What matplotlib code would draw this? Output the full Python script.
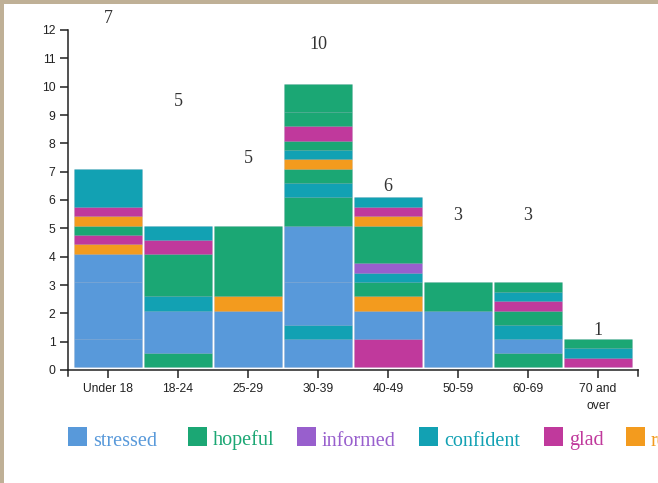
import matplotlib
matplotlib.use("Agg")
import matplotlib.pyplot as plt
from matplotlib.patches import Rectangle
from matplotlib.lines import Line2D

# ---- data -------------------------------------------------------------
age_groups = ["Under 18", "18-24", "25-29", "30-39", "40-49", "50-59",
              "60-69", "70 and\nover"]
emotions = ["stressed", "hopeful", "informed", "confident", "glad", "relieved"]

third = 1 / 3
# stacked pieces per age group, bottom to top: (emotion, share of responses)
under_18 = [("stressed", 1), ("stressed", 2), ("stressed", 1),
            ("relieved", third), ("glad", third), ("hopeful", third),
            ("relieved", third), ("glad", third), ("confident", 4 * third)]
age_18_24 = [("hopeful", 0.5), ("stressed", 1.5), ("confident", 0.5),
             ("hopeful", 1.5), ("glad", 0.5), ("confident", 0.5)]
age_25_29 = [("stressed", 2), ("relieved", 0.5), ("hopeful", 2.5)]
age_30_39 = [("stressed", 1), ("confident", 0.5), ("stressed", 1.5),
             ("stressed", 2), ("hopeful", 1), ("confident", 0.5),
             ("hopeful", 0.5), ("relieved", third), ("confident", third),
             ("hopeful", third), ("glad", 0.5), ("hopeful", 0.5),
             ("hopeful", 1)]
age_40_49 = [("glad", 1), ("stressed", 1), ("relieved", 0.5),
             ("hopeful", 0.5), ("confident", third), ("informed", third),
             ("hopeful", 4 * third), ("relieved", third), ("glad", third),
             ("confident", third)]
age_50_59 = [("stressed", 2), ("hopeful", 1)]
age_60_69 = [("hopeful", 0.5), ("stressed", 0.5), ("confident", 0.5),
             ("hopeful", 0.5), ("glad", third), ("confident", third),
             ("hopeful", third)]
age_70_plus = [("glad", third), ("confident", third), ("hopeful", third)]

stacks = [under_18, age_18_24, age_25_29, age_30_39, age_40_49,
          age_50_59, age_60_69, age_70_plus]

# ---- style ------------------------------------------------------------
palette = {
    "stressed": "#5899DA",
    "hopeful": "#1BA774",
    "informed": "#985FCD",
    "confident": "#12A1B3",
    "glad": "#C0399C",
    "relieved": "#F39B1E",
}
total_label_y = [12.4, 9.49, 7.48, 11.5, 6.46, 5.47, 5.47, 1.41]
baseline_lift = 0.1
W, H = 658, 483

fig = plt.figure(figsize=(W / 100, H / 100), dpi=100)
fig.patch.set_facecolor("white")

# tan frame strips on the left and top edges
tan = "#bfb096"
fig.add_artist(Rectangle((0, 0), 4 / W, 1, transform=fig.transFigure,
                         facecolor=tan, edgecolor="none", zorder=0))
fig.add_artist(Rectangle((0, 1 - 4 / H), 1, 4 / H, transform=fig.transFigure,
                         facecolor=tan, edgecolor="none", zorder=0))

left_px, right_px, top_px, bottom_px = 68, 638, 30, 370
ax = fig.add_axes([left_px / W, 1 - bottom_px / H,
                   (right_px - left_px) / W, (bottom_px - top_px) / H])
ax.set_facecolor("none")

pad = 5 / 70
ax.set_xlim(-0.5 - pad, len(age_groups) - 0.5 + pad)
ax.set_ylim(0, 12)

bar_w = 68.6 / 70
for i, stack in enumerate(stacks):
    bottom = baseline_lift
    for emo, h in stack:
        ax.bar(i, h, bottom=bottom, width=bar_w, color=palette[emo],
               edgecolor=(0.1, 0.2, 0.4, 0.07), linewidth=0.7, zorder=2)
        bottom += h
    total = sum(h for _, h in stack)
    ax.text(i, total_label_y[i], f"{round(total)}", ha="center", va="center",
            fontsize=13, family="Liberation Serif", color="#333333",
            clip_on=False)

axis_color = "#222222"
for side in ("top", "right"):
    ax.spines[side].set_visible(False)
for side in ("left", "bottom"):
    ax.spines[side].set_color(axis_color)
    ax.spines[side].set_linewidth(1.1)

ax.set_yticks(range(0, 13))
ax.set_xticks(range(len(age_groups)))
ax.set_xticklabels(age_groups, linespacing=1.65)
ax.tick_params(axis="both", length=6, width=1.1, color=axis_color,
               labelsize=8.7, labelcolor="#222222", pad=3)
for lab in ax.get_xticklabels() + ax.get_yticklabels():
    lab.set_family("Liberation Sans")

# outer end ticks of the x domain line
for xp in (left_px, right_px):
    fig.add_artist(Line2D([xp / W, xp / W],
                          [1 - bottom_px / H, 1 - (bottom_px + 6) / H],
                          transform=fig.transFigure, color=axis_color,
                          linewidth=1.1))

# legend row (the last entry runs past the right edge of the canvas)
legend_x = [67.7, 187.6, 296.9, 419.0, 544.3, 626.0]
sw_top, sw_size = 426.7, 19
for emo, xp in zip(emotions, legend_x):
    fig.add_artist(Rectangle((xp / W, 1 - (sw_top + sw_size) / H),
                             sw_size / W, sw_size / H,
                             transform=fig.transFigure,
                             facecolor=palette[emo], edgecolor="none"))
    fig.text((xp + 25) / W, 1 - 445.5 / H, emo,
             ha="left", va="baseline", fontsize=14.5,
             family="Liberation Serif", color=palette[emo])

fig.savefig("out.png", dpi=100)
